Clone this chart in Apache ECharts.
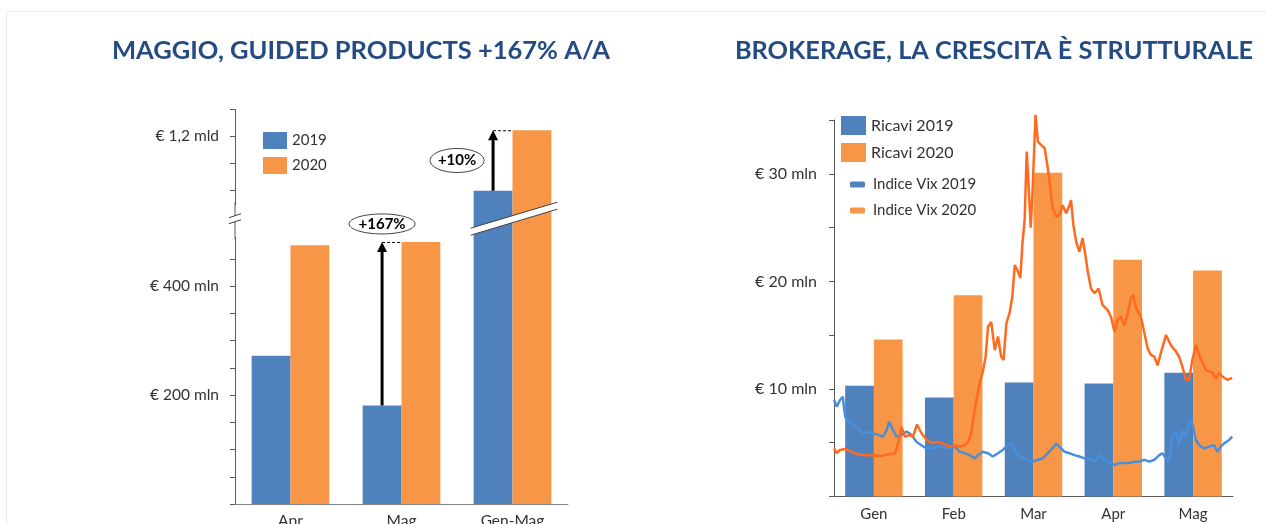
<!DOCTYPE html>
<html>
<head>
<meta charset="utf-8">
<script src="https://cdn.jsdelivr.net/npm/echarts@6/dist/echarts.min.js"></script>
<style>
  html, body { margin: 0; padding: 0; background: #fff; }
  #chart { width: 1266px; height: 524px; }
</style>
</head>
<body>
<div id="chart"></div>
<script>
// --- grafico sinistro: guided products (mln di euro)
var guidedCats = ['Apr', 'Mag', 'Gen-Mag'];
var guided2019 = [272, 181, 1100];
var guided2020 = [475, 481, 1211];
var guidedTickVals = [200, 400, 1200];
var guidedTickText = ['€ 200 mln', '€ 400 mln', '€ 1,2 mld'];
var growthIdx = [1, 2];
var growthText = ['+167%', '+10%'];
var guidedBreak = [490, 1075];

// --- grafico destro: brokerage (mln di euro) + indice VIX
var months = ['Gen', 'Feb', 'Mar', 'Apr', 'Mag'];
var ricavi2019 = [10.3, 9.2, 10.6, 10.5, 11.5];
var ricavi2020 = [14.6, 18.7, 30.1, 22.0, 21.0];
var brokTickVals = [10, 20, 30];
var brokTickText = ['€ 10 mln', '€ 20 mln', '€ 30 mln'];

// [giorno (0-100 del periodo gen-mag), livello VIX]
var vix2019 = [[0,20.5],[0.7,19.1],[1.5,20.5],[2.2,21.2],[2.8,17.0],[3.6,15.9],[4.8,15.2],[6.1,14.5],[7.3,13.4],[8.6,13.8],
  [9.8,13.4],[11.1,13.1],[12.3,12.7],[13.2,14.1],[13.8,15.9],[14.8,14.1],[15.7,12.7],[16.9,13.1],[18.2,13.8],[19.4,13.1],
  [20.7,11.6],[21.9,10.9],[23.2,10.2],[24.4,10.2],[25.7,10.6],[27.3,10.6],[29,10.2],[30.3,10.6],[31.5,9.5],[32.8,9.2],
  [34,8.8],[35.3,8.1],[36.1,8.8],[37.3,9.5],[38.6,9.2],[39.8,8.5],[41.1,9.2],[42.3,9.9],[43.6,10.9],[44.4,11.3],
  [45.3,9.9],[46.5,8.5],[48.2,7.8],[49.8,7.4],[51.1,7.8],[52.3,8.1],[53.6,9.2],[54.7,10.2],[55.7,11.2],[56.5,10.6],
  [57.8,9.5],[59,9.2],[60.3,8.8],[61.5,8.5],[62.8,8.1],[64,8.1],[65.3,7.4],[66.5,8.8],[67.8,7.8],[69,7.1],
  [70.3,6.7],[71.5,7.1],[72.8,7.1],[74,7.1],[75.3,7.4],[76.5,7.4],[77.8,7.8],[79,7.4],[80.3,7.8],[81.5,8.8],
  [82.3,9.2],[83.2,8.1],[84,7.4],[84.8,12.7],[85.7,13.8],[86.5,10.9],[87.3,14.1],[88.2,12.7],[89,15.9],[89.8,15.6],
  [90.7,12.0],[91.5,10.9],[92.8,10.2],[94,10.6],[95.3,10.9],[96.1,9.5],[96.9,10.6],[97.8,11.3],[99,12.0],[99.8,12.7]];
var vix2020 = [[0,10.2],[0.7,9.2],[1.5,9.9],[2.8,10.1],[4,9.7],[5.7,9.0],[7.3,8.8],[9.8,8.7],[11.9,8.6],[13.6,9.0],
  [15.3,9.2],[16.1,11.4],[16.9,14.8],[17.8,12.7],[19,13.1],[19.8,12.7],[20.8,15.3],[21.9,13.5],[23.2,12.0],[24.4,11.4],
  [25.7,11.6],[27.3,11.2],[29,10.6],[30.3,10.9],[31.5,10.6],[32.8,10.9],[33.6,11.6],[34.4,13.5],[35,17.0],[35.7,20.5],
  [36.5,24.1],[37.3,26.5],[38,29.7],[38.6,36.1],[39.4,37.1],[40.3,31.1],[41.1,34.0],[41.9,29.7],[42.5,29.0],[43.2,36.8],
  [44,39.0],[44.7,42.5],[45.3,49.2],[46.1,47.8],[46.7,46.4],[47.2,53.4],[47.8,59.1],[48.3,73.3],[48.8,65.6],[49.3,57.1],
  [49.8,65.6],[50.5,81.1],[51.1,75.4],[51.9,74.7],[52.8,74.0],[53.6,69.7],[54.2,65.5],[54.8,61.2],[55.7,59.5],[56.5,59.8],
  [57.3,61.9],[58.2,60.2],[59,61.9],[59.4,63.0],[60,57.7],[60.7,54.1],[61.5,52.0],[62.3,54.9],[63,51.3],[63.6,47.8],
  [64.4,44.2],[65.3,43.2],[66.3,44.2],[66.9,42.1],[67.3,40.7],[68.6,39.6],[69.4,38.2],[70.3,35.0],[71.1,37.5],[71.9,38.2],
  [72.8,36.4],[73.6,38.9],[74.4,42.1],[75,42.8],[75.7,40.0],[76.9,38.2],[77.8,34.7],[78.6,31.5],[79.4,30.1],[80.3,29.7],
  [81.1,27.9],[81.9,30.4],[83.2,34.3],[84.4,32.2],[85.7,30.8],[86.5,29.7],[87.3,27.6],[88.2,24.8],[89,24.8],[89.8,29.0],
  [90.7,32.2],[91.5,30.1],[92.3,28.6],[93.2,26.9],[94,26.5],[94.8,26.5],[95.7,25.1],[96.5,26.2],[97.3,25.5],[98.6,24.8],[99.8,25.2]];

var BLUE = '#4F81BD', ORANGE = '#F79646';
var FONT = 'Lato';

function tickLabel(vals, texts) {
  return function (v) {
    var i = vals.indexOf(v);
    return i < 0 ? '' : texts[i];
  };
}

// tacche ogni 50 mln, escluse quelle dentro l'interruzione
var guidedTicks = [];
for (var t = 0; t <= 1250; t += 50) {
  if (t < guidedBreak[0] || t > guidedBreak[1]) guidedTicks.push(t);
}

// frecce di crescita 2019 -> 2020 sopra la barra 2019
function renderGrowth(params, api) {
  var idx = api.value(0);
  var p0 = api.coord([idx, api.value(1)]);
  var p1 = api.coord([idx, api.value(2)]);
  var band = api.size([1, 0])[0];
  var barW = band * 0.7 / 2;
  var x = p0[0] - barW / 2;
  var yTop = p1[1];
  var cx, cy;
  if (params.dataIndex === 0) { cx = x; cy = yTop - 18; }
  else { cx = x - 36; cy = (p0[1] + p1[1]) / 2; }
  var txt = growthText[params.dataIndex];
  var rx = txt.length > 4 ? 33 : 27, ry = txt.length > 4 ? 10 : 12;
  return {
    type: 'group',
    children: [
      { type: 'line', shape: { x1: x, y1: p0[1], x2: x, y2: yTop + 8 }, style: { stroke: '#000', lineWidth: 3 } },
      { type: 'polygon', shape: { points: [[x, yTop], [x - 5, yTop + 10], [x + 5, yTop + 10]] }, style: { fill: '#000' } },
      { type: 'line', shape: { x1: x, y1: yTop + 0.5, x2: p0[0], y2: yTop + 0.5 }, style: { stroke: '#000', lineWidth: 1, lineDash: [3, 2] } },
      { type: 'ellipse', shape: { cx: cx, cy: cy, rx: rx, ry: ry }, style: { fill: '#fff', stroke: '#404040', lineWidth: 1 } },
      { type: 'text', style: { text: txt, x: cx, y: cy, align: 'center', verticalAlign: 'middle', fill: '#000',
        font: 'bold 15px ' + FONT } }
    ]
  };
}

// simbolo di interruzione dell'asse e delle barre Gen-Mag
function renderBreak(params, api) {
  var idx = api.value(0);
  var band = api.size([1, 0])[0];
  var yLo = api.coord([idx, guidedBreak[0]])[1];
  var yHi = api.coord([idx, guidedBreak[1]])[1];
  var ym = (yLo + yHi) / 2 - 2;
  var c = api.coord([idx, 0])[0];
  var axisX = api.coord([0, 0])[0] - band / 2;
  var xl = c - band * 0.35 - 3, xr = c + band * 0.35 + 6;
  var dy = 13, th = 3.5;
  return {
    type: 'group',
    children: [
      { type: 'line', shape: { x1: axisX, y1: yHi - 2, x2: axisX, y2: yLo + 2 }, style: { stroke: axisColor, lineWidth: 1 } },
      { type: 'polygon', shape: { points: [[xl, ym + dy - th], [xr, ym - dy - th], [xr, ym - dy + th], [xl, ym + dy + th]] },
        style: { fill: '#fff' } },
      { type: 'line', shape: { x1: xl, y1: ym + dy - th, x2: xr, y2: ym - dy - th }, style: { stroke: '#404040', lineWidth: 1 } },
      { type: 'line', shape: { x1: xl, y1: ym + dy + th, x2: xr, y2: ym - dy + th }, style: { stroke: '#404040', lineWidth: 1 } },
      { type: 'rect', shape: { x: axisX - 2, y: ym - 3, width: 4, height: 6 }, style: { fill: '#fff' } },
      { type: 'line', shape: { x1: axisX - 6, y1: ym - 1, x2: axisX + 6, y2: ym - 5 }, style: { stroke: '#404040', lineWidth: 1 } },
      { type: 'line', shape: { x1: axisX - 6, y1: ym + 5, x2: axisX + 6, y2: ym + 1 }, style: { stroke: '#404040', lineWidth: 1 } }
    ]
  };
}

var axisColor = '#595959';
var labelStyle = { fontFamily: FONT, color: '#333' };

var chart = echarts.init(document.getElementById('chart'));
var option = {
  backgroundColor: '#fff',
  animation: false,
  graphic: [{
    type: 'rect', silent: true, z: -10,
    shape: { x: 6.5, y: 11.5, width: 1400, height: 700 },
    style: { fill: 'none', stroke: '#ececec', lineWidth: 1 }
  }],
  title: [
    { text: 'MAGGIO, GUIDED PRODUCTS +167% A/A', left: 356, top: 33, textAlign: 'center',
      textStyle: { fontFamily: FONT, fontWeight: 'bold', fontSize: 25.5, color: '#244B82' } },
    { text: 'BROKERAGE, LA CRESCITA È STRUTTURALE', left: 989, top: 33, textAlign: 'center',
      textStyle: { fontFamily: FONT, fontWeight: 'bold', fontSize: 25.3, color: '#244B82' } }
  ],
  legend: [
    { data: ['2019', '2020'], orient: 'vertical', left: 263, top: 132, padding: 0, itemWidth: 24, itemHeight: 17, itemGap: 8,
      icon: 'rect', textStyle: { fontFamily: FONT, fontSize: 15, color: '#333' } },
    { data: ['Ricavi 2019', 'Ricavi 2020'], orient: 'vertical', left: 841, top: 116, padding: 0, itemWidth: 25, itemHeight: 19, itemGap: 8,
      icon: 'rect', textStyle: { fontFamily: FONT, fontSize: 16, color: '#333' } },
    { data: [{ name: 'Indice Vix 2019', itemStyle: { color: BLUE } }, { name: 'Indice Vix 2020', itemStyle: { color: ORANGE } }],
      orient: 'vertical', left: 850, top: 177, padding: 0, itemWidth: 15, itemHeight: 6, itemGap: 11, icon: 'roundRect',
      textStyle: { fontFamily: FONT, fontSize: 15, color: '#333', padding: [0, 0, 0, 3] } }
  ],
  grid: [
    { left: 235, top: 109, width: 333, height: 395, outerBoundsMode: 'none' },
    { left: 834, top: 120, width: 399, height: 376.5, outerBoundsMode: 'none' }
  ],
  xAxis: [
    { gridIndex: 0, type: 'category', data: guidedCats,
      axisLine: { lineStyle: { color: '#888' } }, axisTick: { show: false },
      axisLabel: Object.assign({ fontSize: 15.5, margin: 9 }, labelStyle) },
    { gridIndex: 1, type: 'category', data: months,
      axisLine: { lineStyle: { color: axisColor } }, axisTick: { show: false },
      axisLabel: Object.assign({ fontSize: 15, margin: 10 }, labelStyle) },
    { gridIndex: 1, type: 'value', min: 0, max: 100, show: false }
  ],
  yAxis: [
    { gridIndex: 0, type: 'value', min: 0, max: 1250, interval: 50,
      breaks: [{ start: guidedBreak[0], end: guidedBreak[1], gap: 60 }],
      breakArea: { show: false },
      axisLine: { show: true, lineStyle: { color: axisColor } },
      axisTick: { show: true, length: 5, customValues: guidedTicks, lineStyle: { color: axisColor } },
      splitLine: { show: false },
      axisLabel: Object.assign({ fontSize: 15.5, margin: 16, formatter: tickLabel(guidedTickVals, guidedTickText) }, labelStyle) },
    { gridIndex: 1, type: 'value', min: 0, max: 35, interval: 5,
      axisLine: { show: true, lineStyle: { color: axisColor } },
      axisTick: { show: true, length: 5, lineStyle: { color: axisColor } },
      splitLine: { show: false },
      axisLabel: Object.assign({ fontSize: 16, margin: 17, formatter: tickLabel(brokTickVals, brokTickText) }, labelStyle) },
    { gridIndex: 1, type: 'value', min: 0, max: 80, show: false }
  ],
  series: [
    { name: '2019', type: 'bar', xAxisIndex: 0, yAxisIndex: 0, data: guided2019,
      itemStyle: { color: BLUE }, barGap: 0, barCategoryGap: '30%' },
    { name: '2020', type: 'bar', xAxisIndex: 0, yAxisIndex: 0, data: guided2020,
      itemStyle: { color: ORANGE }, barGap: 0, barCategoryGap: '30%' },
    { type: 'custom', xAxisIndex: 0, yAxisIndex: 0, z: 5, renderItem: renderBreak, data: [[2]] },
    { type: 'custom', xAxisIndex: 0, yAxisIndex: 0, z: 6, renderItem: renderGrowth,
      data: growthIdx.map(function (i) { return [i, guided2019[i], guided2020[i]]; }) },

    { name: 'Ricavi 2019', type: 'bar', xAxisIndex: 1, yAxisIndex: 1, data: ricavi2019,
      itemStyle: { color: BLUE }, barGap: 0, barCategoryGap: '28%' },
    { name: 'Ricavi 2020', type: 'bar', xAxisIndex: 1, yAxisIndex: 1, data: ricavi2020,
      itemStyle: { color: ORANGE }, barGap: 0, barCategoryGap: '28%' },
    { name: 'Indice Vix 2019', type: 'line', xAxisIndex: 2, yAxisIndex: 2, data: vix2019,
      showSymbol: false, clip: false, z: 4, lineStyle: { color: '#4A8FDA', width: 2.5 }, itemStyle: { color: BLUE } },
    { name: 'Indice Vix 2020', type: 'line', xAxisIndex: 2, yAxisIndex: 2, data: vix2020,
      showSymbol: false, clip: false, z: 4, lineStyle: { color: '#FF6A1F', width: 2.5 }, itemStyle: { color: ORANGE } }
  ]
};
chart.setOption(option);
</script>
</body>
</html>
